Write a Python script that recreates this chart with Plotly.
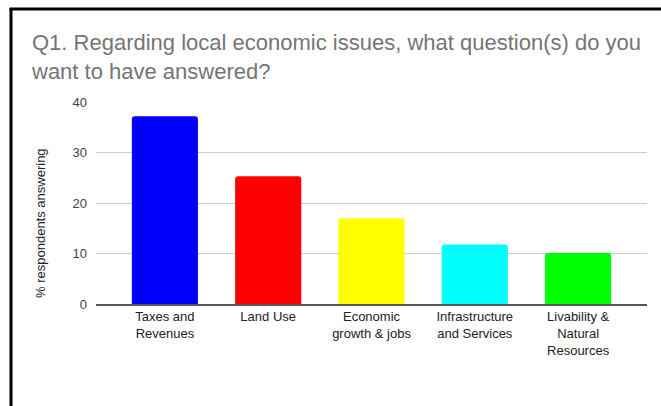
import plotly.graph_objects as go

categories = ["Taxes and<br>Revenues", "Land Use", "Economic<br>growth & jobs",
              "Infrastructure<br>and Services", "Livability &<br>Natural<br>Resources"]
values = [37.2, 25.3, 17.0, 11.8, 10.1]
colors = ["#0000ff", "#ff0000", "#ffff00", "#00ffff", "#00ff00"]
y_ticks = [0, 10, 20, 30, 40]

FONT = "Liberation Sans, Arial, sans-serif"

fig = go.Figure(go.Bar(
    x=categories, y=values,
    marker=dict(color=colors, line=dict(width=0), cornerradius=3),
    width=0.64,
))

W, H = 661, 406
L, R, T, B = 96, 14, 102, 102
pw, ph = W - L - R, H - T - B

def px(xp):
    return (xp - L) / pw

def py(yp):
    return (H - B - yp) / ph

fig.update_layout(
    width=W, height=H,
    margin=dict(l=L, r=R, t=T, b=B),
    paper_bgcolor="white", plot_bgcolor="white",
    font=dict(family=FONT, size=13, color="#222222"),
    showlegend=False,
    title=dict(
        text="Q1. Regarding local economic issues, what question(s) do you<br>want to have answered?",
        font=dict(family=FONT, size=22, color="#757575"),
        x=32 / W, xanchor="left", xref="container",
        y=1 - 50 / H, yanchor="top", yref="container",
    ),
    xaxis=dict(
        type="category", range=[-0.667, 4.667],
        showgrid=False, showline=True, linecolor="#555555", linewidth=1.5,
        ticks="", tickfont=dict(size=13, color="#222222"), fixedrange=True,
    ),
    yaxis=dict(
        range=[0, 40], tickvals=y_ticks, showgrid=True, gridcolor="#cccccc",
        gridwidth=1, zeroline=False, showline=False, ticks="",
        tickfont=dict(size=13, color="#444444"), ticklabelstandoff=8,
    ),
    annotations=[dict(
        text="% respondents answering", textangle=-90,
        x=px(40), y=py(223), xref="paper", yref="paper",
        showarrow=False, font=dict(size=13, color="#222222"),
        xanchor="center", yanchor="middle",
    )],
    shapes=[
        dict(type="line", xref="paper", yref="paper",
             x0=px(11), x1=px(11), y0=py(H + 5), y1=py(9),
             line=dict(color="black", width=3)),
        dict(type="line", xref="paper", yref="paper",
             x0=px(9.5), x1=px(W + 5), y0=py(9), y1=py(9),
             line=dict(color="black", width=3)),
    ],
)

fig.write_html("out.html")
